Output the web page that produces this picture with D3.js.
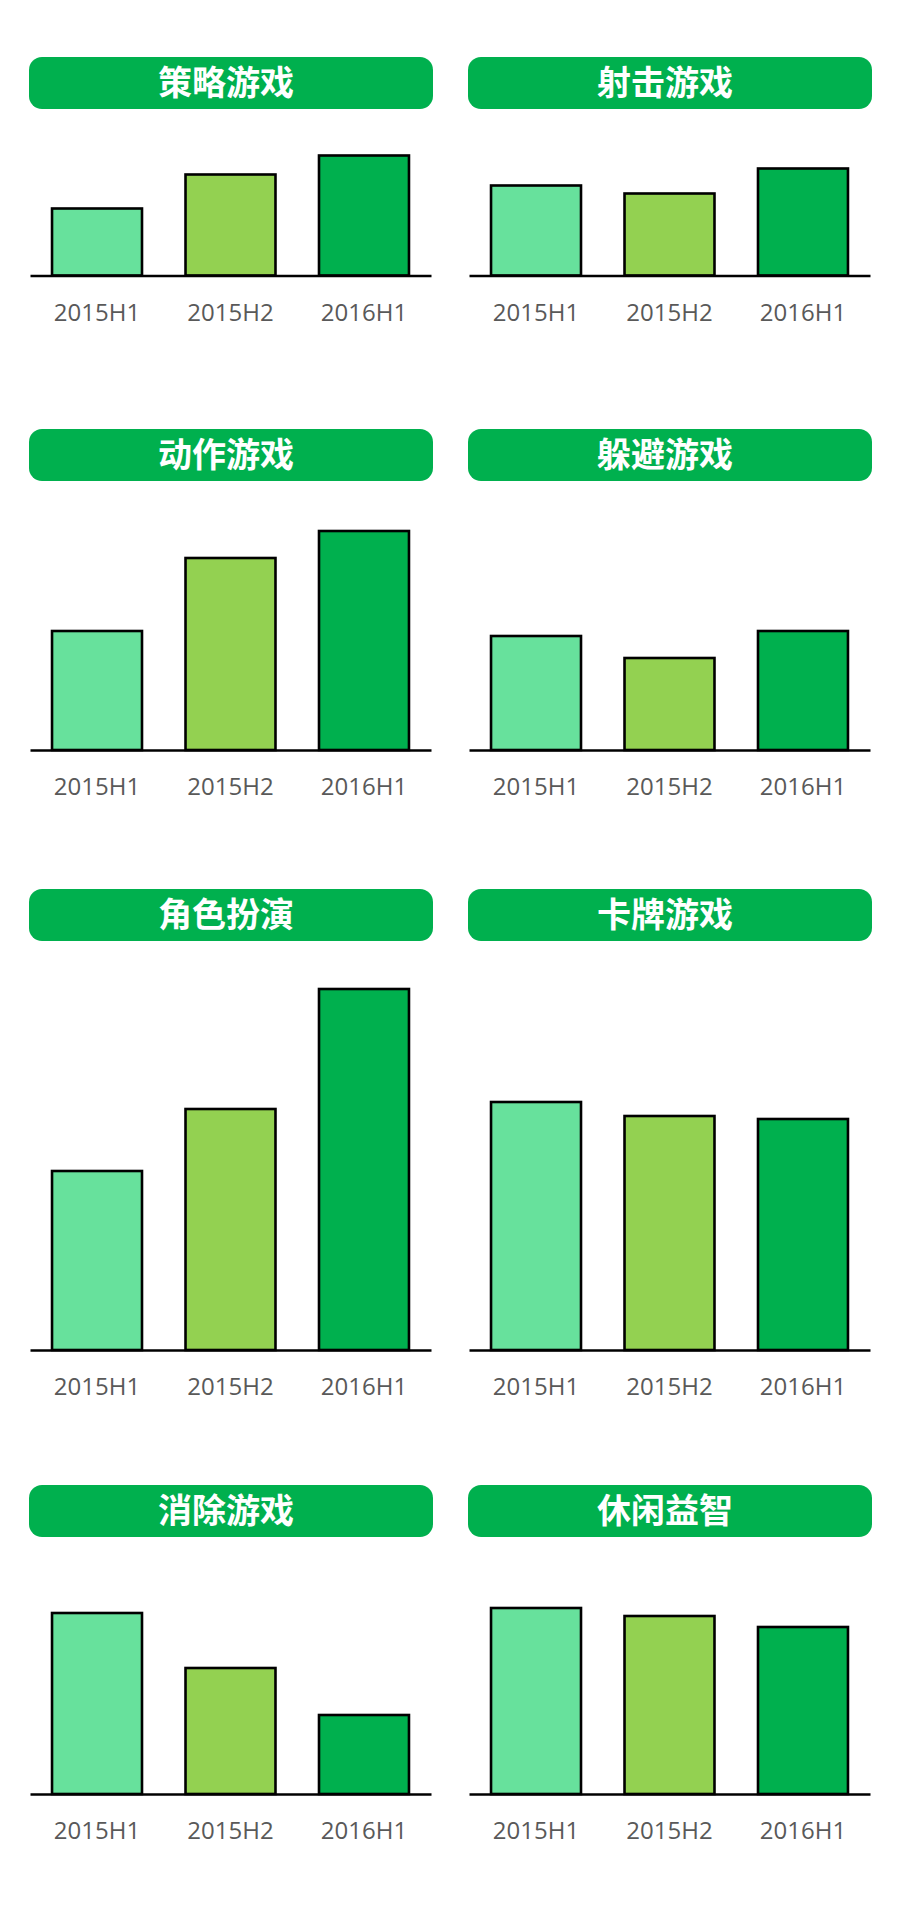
<!DOCTYPE html>
<html>
<head>
<meta charset="utf-8">
<script src="https://cdn.jsdelivr.net/npm/d3@7"></script>
<style>
  body { margin: 0; background: #fff; }
  .tick text { font-family: "Open Sans", "DejaVu Sans", sans-serif; }
</style>
</head>
<body>
<script>
// periods shown under every bar group
const periods = ['2015H1', '2015H2', '2016H1'];

// genre titles, in reading order (left to right, top to bottom)
const genres = ['策略游戏', '射击游戏', '动作游戏', '躲避游戏', '角色扮演', '卡牌游戏', '消除游戏', '休闲益智'];

// values per genre (relative index)
const strategyValues = [6.7, 10.1, 12.0];
const shooterValues  = [9.0, 8.2, 10.7];
const actionValues   = [11.9, 19.2, 21.9];
const dodgeValues    = [11.4, 9.2, 11.9];
const rpgValues      = [17.9, 24.1, 36.1];
const cardValues     = [24.8, 23.4, 23.1];
const matchValues    = [18.1, 12.6, 7.9];
const casualValues   = [18.6, 17.8, 16.7];

const seriesValues = [strategyValues, shooterValues, actionValues, dodgeValues,
                      rpgValues, cardValues, matchValues, casualValues];

(function() {
    const width = 900,
          height = 1905,
          barColors = ['#67e19c', '#93d151', '#00b04e'],
          pillColor = '#00b04e',
          pxPerUnit = 10;

    // panel layout: column spans and row positions
    const columns = [{ x0: 30, x1: 431, pill0: 29, pill1: 433 },
                     { x0: 469, x1: 870, pill0: 468, pill1: 872 }];
    const rows = [{ pillTop: 57, base: 275.5 },
                  { pillTop: 429, base: 750 },
                  { pillTop: 889, base: 1350 },
                  { pillTop: 1485, base: 1794 }];

    let svg = d3.select('body')
                .append('svg')
                .attr('width', width)
                .attr('height', height);

    genres.forEach((genre, i) => {
        const col = columns[i % 2],
              row = rows[Math.floor(i / 2)],
              values = seriesValues[i];

        let g = svg.append('g').attr('class', 'panel');

        // title pill
        g.append('rect')
         .attr('x', col.pill0)
         .attr('y', row.pillTop)
         .attr('width', col.pill1 - col.pill0)
         .attr('height', 52)
         .attr('rx', 13)
         .attr('fill', pillColor);

        g.append('text')
         .attr('x', (col.pill0 + col.pill1) / 2 - 5)
         .attr('y', row.pillTop + 26)
         .attr('dy', '0.36em')
         .attr('text-anchor', 'middle')
         .attr('fill', '#fff')
         .style('font-family', '"Noto Sans CJK SC", sans-serif')
         .style('font-weight', 700)
         .style('font-size', '34px')
         .text(genre);

        let x = d3.scaleBand()
                  .domain(periods)
                  .range([col.x0, col.x1])
                  .paddingInner(0.326)
                  .paddingOuter(0.165);

        let y = d3.scaleLinear()
                  .domain([0, 40])
                  .range([row.base, row.base - 40 * pxPerUnit]);

        g.selectAll('rect.bar')
         .data(values)
         .enter()
         .append('rect')
         .attr('class', 'bar')
         .attr('x', (d, k) => x(periods[k]))
         .attr('y', d => y(d))
         .attr('width', x.bandwidth())
         .attr('height', d => y(0) - y(d))
         .attr('fill', (d, k) => barColors[k])
         .attr('stroke', '#000')
         .attr('stroke-width', 2.6);

        let axis = g.append('g')
                    .attr('transform', `translate(0,${row.base})`)
                    .call(d3.axisBottom(x).tickSize(0).tickPadding(28));

        axis.select('.domain')
            .attr('stroke', '#000')
            .attr('stroke-width', 2.6);

        axis.selectAll('.tick text')
            .attr('fill', '#595959')
            .style('font-size', '24px');
    });
})();
</script>
</body>
</html>
